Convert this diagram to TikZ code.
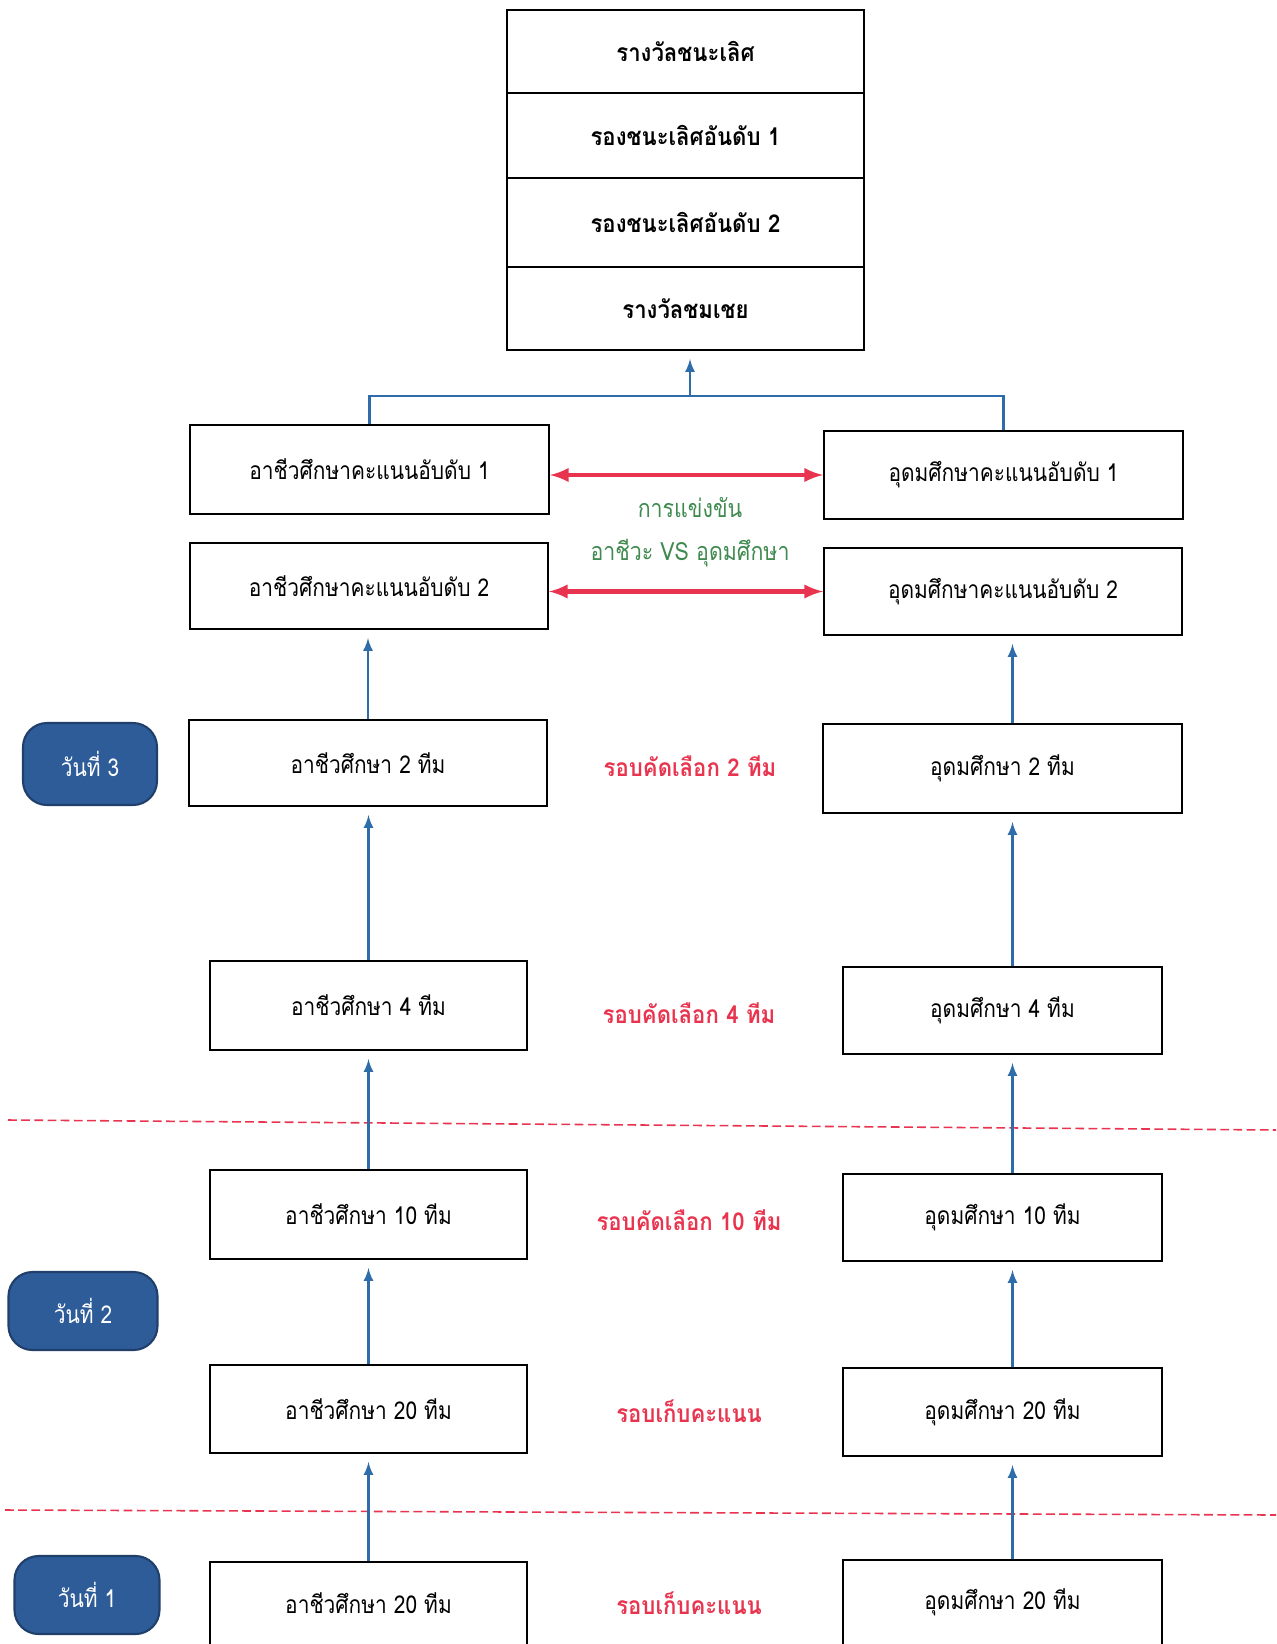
\documentclass[tikz,border=0pt]{standalone}
\usepackage{fontspec}
\newfontfamily\thaifont[Script=Thai,FakeStretch=0.85]{Loma}
\newfontfamily\thaiboldfont[Script=Thai,FakeStretch=0.9]{Loma}
\newlength\pix
\setlength\pix{0.02cm}
\definecolor{flowblue}{HTML}{2E6DAA}
\definecolor{dayblue}{HTML}{2D5C99}
\definecolor{roundred}{HTML}{E8344E}
\definecolor{vsgreen}{HTML}{3F8A4F}

\begin{document}
\begin{tikzpicture}[x=0.02cm, y=-0.02cm,
    teambox/.style={draw=black, line width=1.1pt, fill=white, inner sep=0pt,
      font=\thaifont\fontsize{14}{16}\selectfont},
    prizebox/.style={teambox, minimum width=357\pix, font=\thaiboldfont\bfseries\fontsize{14}{16}\selectfont},
    daybadge/.style={draw=dayblue!70!black, line width=1.2pt, fill=dayblue, rounded corners=24\pix,
      text=white, inner sep=0pt, font=\thaifont\fontsize{14}{16}\selectfont},
    roundlabel/.style={text=roundred, font=\thaiboldfont\bfseries\fontsize{14}{16}\selectfont},
    vslabel/.style={text=vsgreen, font=\thaifont\fontsize{14.3}{16}\selectfont},
    upline/.style={draw=flowblue, line width=1.5pt},
    uparrow/.style={upline, -latex, shorten >=8\pix},
    vsarrow/.style={draw=roundred, line width=2.6pt, latex-latex},
    daydash/.style={draw=roundred, line width=0.9pt, dash pattern=on 5pt off 2.5pt}]
  \useasboundingbox (0,0) rectangle (1276,1644);

  % prize stack
  \node[prizebox, minimum height=83\pix] (win) at (685.5,51.5) {รางวัลชนะเลิศ};
  \node[prizebox, minimum height=85\pix] (run1) at (685.5,135.5) {รองชนะเลิศอันดับ 1};
  \node[prizebox, minimum height=89\pix] (run2) at (685.5,222.5) {รองชนะเลิศอันดับ 2};
  \node[prizebox, minimum height=83\pix] (hon) at (685.5,308.5) {รางวัลชมเชย};

  % vocational side
  \node[teambox, minimum width=359\pix, minimum height=89\pix] (voc1) at (369.5,469.5) {อาชีวศึกษาคะแนนอับดับ 1};
  \node[teambox, minimum width=358\pix, minimum height=86\pix] (voc2) at (369,586) {อาชีวศึกษาคะแนนอับดับ 2};
  \node[teambox, minimum width=358\pix, minimum height=86\pix] (voc3) at (368,763) {อาชีวศึกษา 2 ทีม};
  \node[teambox, minimum width=317\pix, minimum height=89\pix] (voc4) at (368.5,1005.5) {อาชีวศึกษา 4 ทีม};
  \node[teambox, minimum width=317\pix, minimum height=89\pix] (voc5) at (368.5,1214.5) {อาชีวศึกษา 10 ทีม};
  \node[teambox, minimum width=317\pix, minimum height=88\pix] (voc6) at (368.5,1409) {อาชีวศึกษา 20 ทีม};
  \node[teambox, minimum width=317\pix, minimum height=100\pix] (voc7) at (368.5,1612) {};
  \node[font=\thaifont\fontsize{14}{16}\selectfont] (voc7t) at (368.5,1603) {อาชีวศึกษา 20 ทีม};

  % university side
  \node[teambox, minimum width=359\pix, minimum height=88\pix] (uni1) at (1003.5,475) {อุดมศึกษาคะแนนอับดับ 1};
  \node[teambox, minimum width=358\pix, minimum height=87\pix] (uni2) at (1003,591.5) {อุดมศึกษาคะแนนอับดับ 2};
  \node[teambox, minimum width=359\pix, minimum height=89\pix] (uni3) at (1002.5,768.5) {อุดมศึกษา 2 ทีม};
  \node[teambox, minimum width=319\pix, minimum height=87\pix] (uni4) at (1002.5,1010.5) {อุดมศึกษา 4 ทีม};
  \node[teambox, minimum width=319\pix, minimum height=87\pix] (uni5) at (1002.5,1217.5) {อุดมศึกษา 10 ทีม};
  \node[teambox, minimum width=319\pix, minimum height=88\pix] (uni6) at (1002.5,1412) {อุดมศึกษา 20 ทีม};
  \node[teambox, minimum width=319\pix, minimum height=100\pix] (uni7) at (1002.5,1610) {};
  \node[font=\thaifont\fontsize{14}{16}\selectfont] (uni7t) at (1002.5,1602) {อุดมศึกษา 20 ทีม};

  % middle labels
  \node[vslabel] (vs1) at (690,508) {การแข่งขัน};
  \node[vslabel] (vs2) at (690,553) {อาชีวะ VS อุดมศึกษา};
  \node[roundlabel] (r2) at (690,766) {รอบคัดเลือก 2 ทีม};
  \node[roundlabel] (r4) at (689,1013) {รอบคัดเลือก 4 ทีม};
  \node[roundlabel] (r10) at (689,1220) {รอบคัดเลือก 10 ทีม};
  \node[roundlabel] (rs2) at (689,1411) {รอบเก็บคะแนน};
  \node[roundlabel] (rs1) at (689,1603) {รอบเก็บคะแนน};

  % days
  \node[daybadge, minimum width=134\pix, minimum height=82\pix] (day3) at (90,764) {วันที่ 3};
  \node[daybadge, minimum width=149\pix, minimum height=78\pix] (day2) at (83,1311) {วันที่ 2};
  \node[daybadge, minimum width=145\pix, minimum height=78\pix] (day1) at (87,1595) {วันที่ 1};

  % day borders
  \draw[daydash] (8,1120) -- (1276,1130);
  \draw[daydash] (5,1510) -- (1276,1515);

  % to the prizes
  \coordinate (join) at (690,396);
  \draw[upline] (voc1.north) |- (join) -| (uni1.north);
  \draw[uparrow] (join) -- (join |- hon.south);

  % finals
  \draw[vsarrow] (uni1.west -| voc1.east) -- (uni1.west);
  \draw[vsarrow] (uni2.west -| voc2.east) -- (uni2.west);

  % rounds
  \draw[uparrow] (voc3.north) -- (voc3.north |- voc2.south);
  \draw[uparrow] (voc4.north) -- (voc4.north |- voc3.south);
  \draw[uparrow] (voc5.north) -- (voc5.north |- voc4.south);
  \draw[uparrow] (voc6.north) -- (voc6.north |- voc5.south);
  \draw[uparrow] (voc7.north) -- (voc7.north |- voc6.south);
  \draw[uparrow] ([xshift=10\pix]uni3.north) -- ([xshift=10\pix]uni3.north |- uni2.south);
  \draw[uparrow] ([xshift=10\pix]uni4.north) -- ([xshift=10\pix]uni4.north |- uni3.south);
  \draw[uparrow] ([xshift=10\pix]uni5.north) -- ([xshift=10\pix]uni5.north |- uni4.south);
  \draw[uparrow] ([xshift=10\pix]uni6.north) -- ([xshift=10\pix]uni6.north |- uni5.south);
  \draw[uparrow] ([xshift=10\pix]uni7.north) -- ([xshift=10\pix]uni7.north |- uni6.south);
\end{tikzpicture}
\end{document}
